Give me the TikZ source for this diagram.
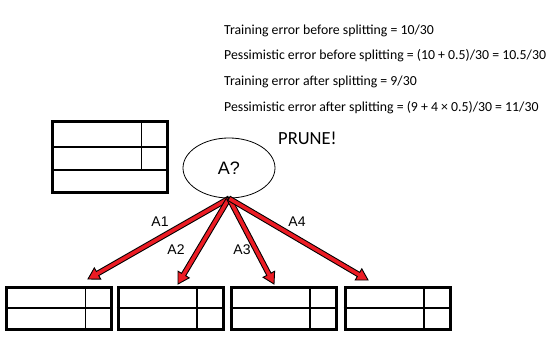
\documentclass[tikz,border=0pt]{standalone}
\usepackage{fontspec}
\setmainfont{Carlito}
\newfontfamily\arialf{Liberation Sans}
\usetikzlibrary{calc,shapes.geometric}
\definecolor{arrowred}{RGB}{236,28,36}
\tikzset{
  tbl/.style={draw=black, line width=3pt, rectangle, inner sep=0pt},
  tblin/.style={draw=black, line width=1.3pt},
  note/.style={anchor=base west, inner sep=0pt, font=\fontsize{13.8}{16}\selectfont},
  lbl/.style={inner sep=0pt, font=\arialf\fontsize{14}{16}\selectfont},
  arrowfill/.style={fill=arrowred, draw=black, line width=0.9pt, line join=miter},
}
\newcommand\redarrow[2]{%
  \coordinate (ab) at ($(#2)!11pt!(#1)$);
  \filldraw[arrowfill] ($(#1)!2.4pt!90:(#2)$) -- ($(ab)!2.4pt!90:(#2)$) -- ($(ab)!6.5pt!90:(#2)$) -- (#2) -- ($(ab)!6.5pt!-90:(#2)$) -- ($(ab)!2.4pt!-90:(#2)$) -- ($(#1)!2.4pt!-90:(#2)$) -- cycle;
}
\begin{document}
\begin{tikzpicture}[x=1pt,y=-1pt]
\useasboundingbox (0,0) rectangle (552,345);
% text
\node[note] (l1) at (224,34.5) {Training error before splitting = 10/30};
\node[note] (l2) at (224,60) {Pessimistic error before splitting = (10 + 0.5)/30 = 10.5/30};
\node[note] (l3) at (224,85.5) {Training error after splitting = 9/30};
\node[note] (l4) at (224,111) {Pessimistic error after splitting = (9 + 4 × 0.5)/30 = 11/30};
\node[anchor=base west, inner sep=0pt, font=\fontsize{18.5}{20}\selectfont] (prune) at (278,144) {PRUNE!};
% top-left table
\node[tbl, minimum width=115pt, minimum height=71pt] (tt) at (110,157) {};
\draw[tblin] ($(tt.north west)+(0,27)$) -- ($(tt.north east)+(0,27)$);
\draw[tblin] ($(tt.north west)+(0,50)$) -- ($(tt.north east)+(0,50)$);
\draw[tblin] ($(tt.north east)+(-27.5,0)$) -- ($(tt.north east)+(-27.5,50)$);
% ellipse
\node[ellipse, draw=black, line width=0.8pt, minimum width=92pt, minimum height=60pt, inner sep=0pt, font=\arialf\fontsize{18}{20}\selectfont] (A) at (229,168) {A?};
% bottom tables
\foreach \n/\cx in {b1/59, b2/170.5, b3/283.5, b4/397.5}{
  \node[tbl, minimum width=105pt, minimum height=42pt] (\n) at (\cx,308.5) {};
  \draw[tblin] ($(\n.west)+(0,-0.5)$) -- ($(\n.east)+(0,-0.5)$);
  \draw[tblin] ($(\n.north east)+(-27.5,0)$) -- ($(\n.south east)+(-27.5,0)$);
}
% arrows
\coordinate (apex) at (A.south);
\coordinate (t1) at (88,279);
\coordinate (t2) at (178,284);
\coordinate (t3) at (274,284);
\coordinate (t4) at (368,280);
\redarrow{apex}{t1}
\redarrow{apex}{t2}
\redarrow{apex}{t3}
\redarrow{apex}{t4}
% labels
\node[lbl] (la1) at (160,222) {A1};
\node[lbl] (la2) at (176,250) {A2};
\node[lbl] (la3) at (242,250) {A3};
\node[lbl] (la4) at (297,222) {A4};
\end{tikzpicture}
\end{document}
